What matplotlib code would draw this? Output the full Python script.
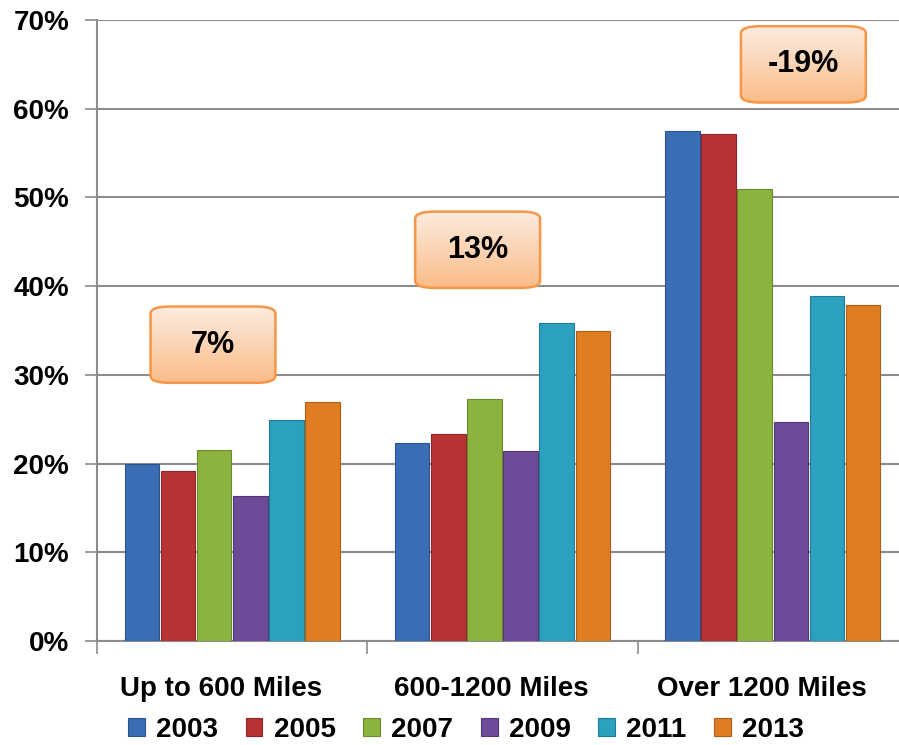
import numpy as np
import matplotlib
matplotlib.use('Agg')
import matplotlib.pyplot as plt
import matplotlib.transforms as mtransforms
from matplotlib.patches import FancyBboxPatch
from matplotlib.ticker import FixedLocator, FuncFormatter

plt.rcParams['font.family'] = ['Liberation Sans', 'DejaVu Sans']
plt.rcParams['font.weight'] = 'bold'

categories = ['Up to 600 Miles', '600-1200 Miles', 'Over 1200 Miles']
years = ['2003', '2005', '2007', '2009', '2011', '2013']
v2003 = [20.0, 22.3, 57.5]
v2005 = [19.2, 23.3, 57.2]
v2007 = [21.5, 27.3, 50.9]
v2009 = [16.3, 21.4, 24.7]
v2011 = [24.9, 35.9, 38.9]
v2013 = [26.9, 34.9, 37.9]
changes = ['7%', '13%', '-19%']

series = [v2003, v2005, v2007, v2009, v2011, v2013]
colors = ['#3a6db4', '#b83333', '#8cb23f', '#6d4b99', '#2ba0bf', '#e07d22']
edges = ['#2a5390', '#8e2424', '#6a8a2c', '#523676', '#1f7d96', '#b05e14']

fig = plt.figure(figsize=(8.99, 7.45), dpi=100)
ax = fig.add_axes([97/899, 104/745, 811/899, 621/745])

x = np.arange(len(categories))
step = 0.1337
w = 0.128
for i, (vals, c, e) in enumerate(zip(series, colors, edges)):
    off = (i - 2.5) * step
    ax.bar(x + off, vals, width=w, color=c, edgecolor=e, linewidth=0.8,
           label=years[i], zorder=3)

ax.set_ylim(0, 70)
ax.set_yticks(np.arange(0, 71, 10))
ax.yaxis.set_major_formatter(FuncFormatter(lambda v, p: '%d%%' % v))
ax.grid(axis='y', color='#8c8c8c', linewidth=1.5, zorder=0)
ax.set_axisbelow(True)

ax.xaxis.set_major_locator(FixedLocator([-0.5, 0.5, 1.5, 2.5]))
ax.xaxis.set_minor_locator(FixedLocator(x))
ax.set_xticklabels([])
ax.set_xticklabels(categories, minor=True)
ax.tick_params(axis='x', which='major', length=9, width=1.2, color='#8c8c8c', direction='out')
ax.tick_params(axis='x', which='minor', length=0, pad=25, labelsize=20)
ax.tick_params(axis='y', length=9, width=1.2, color='#8c8c8c', pad=11, labelsize=20)
shift = mtransforms.ScaledTranslation(-11/100, 0, fig.dpi_scale_trans)
for lab in ax.get_xticklabels(minor=True):
    lab.set_transform(lab.get_transform() + shift)

for s in ['top', 'right']:
    ax.spines[s].set_visible(False)
for s in ['left', 'bottom']:
    ax.spines[s].set_color('#8c8c8c')
    ax.spines[s].set_linewidth(1.5)

# orange callout boxes with change labels
box_x = [-0.071, 0.908, 2.113]
box_y = [33.4, 44.1, 65.0]
bw, bh = 0.462, 8.6
grad = np.linspace(0, 1, 64).reshape(-1, 1, 1)
top_c = np.array([253, 236, 224]) / 255
bot_c = np.array([250, 188, 136]) / 255
img = top_c + (bot_c - top_c) * grad
for cx, cy, txt in zip(box_x, box_y, changes):
    patch = FancyBboxPatch((cx - bw/2, cy - bh/2), bw, bh,
                           boxstyle='round,pad=0,rounding_size=0.07',
                           mutation_aspect=8.6/0.462*76/125,
                           facecolor='none', edgecolor='#f79646', linewidth=1.8, zorder=6)
    ax.add_patch(patch)
    im = ax.imshow(img, extent=(cx - bw/2, cx + bw/2, cy - bh/2, cy + bh/2),
                   aspect='auto', origin='upper', zorder=5)
    im.set_clip_path(patch)
    ax.text(cx, cy, txt, ha='center', va='center', fontsize=22, fontweight='bold', zorder=7)
ax.set_aspect('auto')
ax.set_xlim(-0.5, 2.5)
ax.set_ylim(0, 70)

fig.legend(loc='center', bbox_to_anchor=(466/899, 15/745), ncol=6, frameon=False,
           fontsize=20, handlelength=0.6, handleheight=0.6, handletextpad=0.4,
           columnspacing=1.0)

fig.savefig('out.png', dpi=100)
